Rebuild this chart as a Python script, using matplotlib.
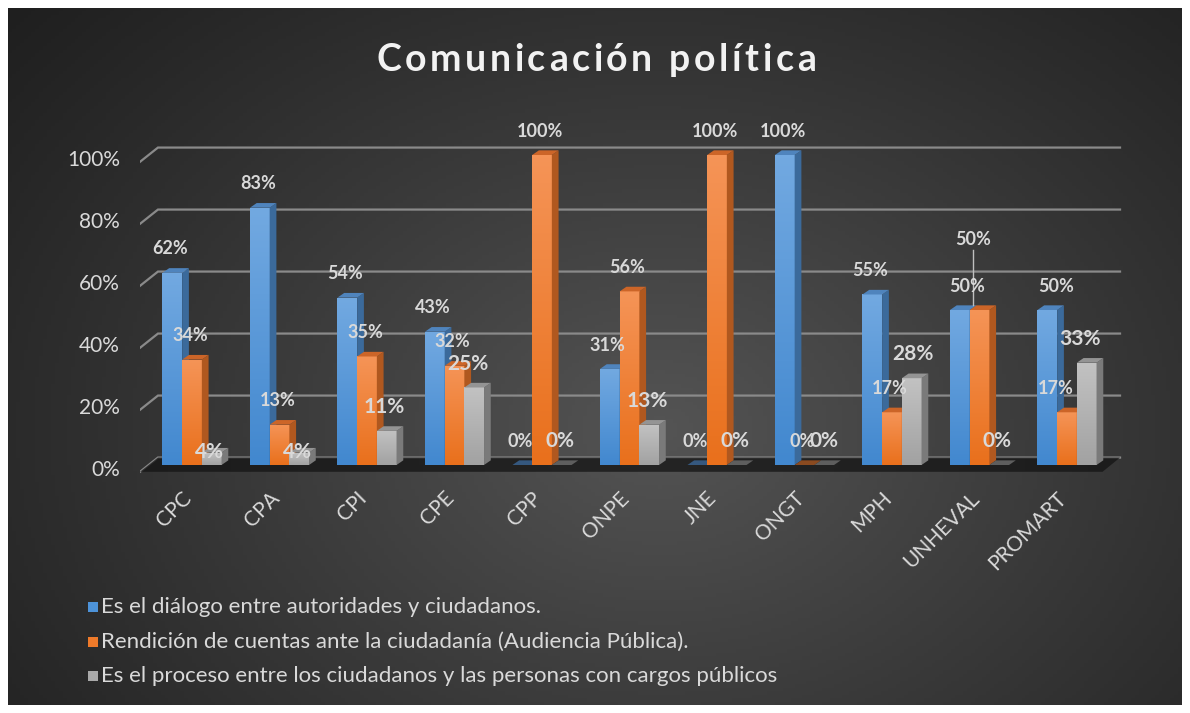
import numpy as np
import matplotlib
matplotlib.use("Agg")
import matplotlib.pyplot as plt
from matplotlib.patches import Polygon, Rectangle
from matplotlib.colors import LinearSegmentedColormap

# ---------------- data ----------------
categories = ["CPC", "CPA", "CPI", "CPE", "CPP", "ONPE", "JNE", "ONGT", "MPH", "UNHEVAL", "PROMART"]
dialogo = [62, 83, 54, 43, 0, 31, 0, 100, 55, 50, 50]
rendicion = [34, 13, 35, 32, 100, 56, 100, 0, 17, 50, 17]
proceso = [4, 4, 11, 25, 0, 13, 0, 0, 28, 0, 33]
series_names = [
    "Es el diálogo entre autoridades y ciudadanos.",
    "Rendición de cuentas ante la ciudadanía (Audiencia Pública).",
    "Es el proceso entre los ciudadanos y las personas con cargos públicos",
]
ytick_values = [0, 20, 40, 60, 80, 100]
title_text = "Comunicación política"

# ---------------- styling ----------------
W, H = 1190, 713
FONT = "Lato"
TXT = "#d9d9d9"
styles = [
    dict(top="#72a9e1", bot="#4288cf", side="#3b6a9b", cap="#4f84bd", zero="#35587f", lab=13),
    dict(top="#f59457", bot="#e9701c", side="#b0581f", cap="#cc6528", zero="#8a4a20", lab=13),
    dict(top="#c2c2c2", bot="#a2a2a2", side="#7a7a7a", cap="#949494", zero="#5e5e5e", lab=15),
]
legend_colors = ["#4d93d9", "#ee7a2a", "#a9a9a9"]

fig = plt.figure(figsize=(W / 100, H / 100), dpi=100, facecolor="white")


def fx(px):
    return px / W


def fy(py):
    return 1 - py / H


# background with radial gradient
bg = fig.add_axes([fx(8), fy(705), (1182 - 8) / W, (705 - 8) / H])
bg.set_axis_off()
gx, gy = np.meshgrid(np.linspace(8, 1182, 300), np.linspace(8, 705, 200))
r = np.sqrt(((gx - 660) / 720) ** 2 + ((gy - 430) / 540) ** 2)
val = 0.115 + 0.215 * np.clip(1 - r / 1.25, 0, 1) ** 1.1
bg.imshow(np.dstack([val, val, val]), extent=[0, 1, 0, 1], aspect="auto", origin="upper")
bg.set_xlim(0, 1)
bg.set_ylim(0, 1)

# main axes: map pixel layout to data coordinates
PX0, PXS = 192.0, 87.5        # x pixel of category 0, pixels per category
PY0, PYS = 465.0, 3.1         # y pixel of value 0, pixels per unit value
L, R, B, T = 140, 1125, 475, 140
ax = fig.add_axes([fx(L), fy(B), (R - L) / W, (B - T) / H])
ax.set_xlim((L - PX0) / PXS, (R - PX0) / PXS)
ax.set_ylim((PY0 - B) / PYS, (PY0 - T) / PYS)
ax.set_axis_off()
ax.patch.set_alpha(0)

n = len(categories)
bw = 0.225
ddx, ddy = 0.077, 1.5
gx_left, gx_slant, gx_right = -0.594, -0.389, 10.606
g_lo, g_hi = -2.2, 2.4

# floor
floor = Polygon([(gx_left, g_lo), (gx_slant, g_hi), (gx_right, g_hi), (gx_right - 0.2, g_lo)],
                closed=True, facecolor="#141414", edgecolor="none", alpha=0.75, zorder=1)
ax.add_patch(floor)

# gridlines (3D style) and y labels
for v in ytick_values:
    ax.plot([gx_left, gx_slant, gx_right], [v + g_lo, v + g_hi, v + g_hi],
            color="#8a8a8a", lw=1.6, zorder=0.5, solid_joinstyle="miter")
    ax.text((120 - PX0) / PXS, v - 1.6, f"{v}%", ha="right", va="center",
            fontsize=15, color=TXT, family=FONT, clip_on=False)

grad = np.linspace(0, 1, 64).reshape(-1, 1)


def draw_bar(x0, v, st, z):
    if v <= 0:
        cap = Polygon([(x0, 0), (x0 + ddx, ddy), (x0 + bw + ddx, ddy), (x0 + bw, 0)],
                      closed=True, facecolor=st["zero"], edgecolor="none", zorder=z)
        ax.add_patch(cap)
        return
    cmap = LinearSegmentedColormap.from_list("g", [st["bot"], st["top"]])
    im = ax.imshow(grad, extent=[x0, x0 + bw, 0, v], origin="lower", cmap=cmap,
                   aspect="auto", zorder=z, interpolation="bilinear")
    clip = Rectangle((x0, 0), bw, v, transform=ax.transData)
    im.set_clip_path(clip)
    side = Polygon([(x0 + bw, 0), (x0 + bw + ddx, ddy), (x0 + bw + ddx, v + ddy), (x0 + bw, v)],
                   closed=True, facecolor=st["side"], edgecolor="none", zorder=z)
    top = Polygon([(x0, v), (x0 + ddx, v + ddy), (x0 + bw + ddx, v + ddy), (x0 + bw, v)],
                  closed=True, facecolor=st["cap"], edgecolor="none", zorder=z)
    ax.add_patch(side)
    ax.add_patch(top)


all_series = [dialogo, rendicion, proceso]
# label adjustments (pixel dx, value dy) for overlaps, as in the reference
label_adjust = {
    (2, 0): (0, -7.5), (2, 1): (0, -7.5),
    (0, 9): (9, 0), (1, 9): (-4, 15),
    (0, 10): (11, 0), (1, 10): (-9, 0), (2, 3): (-4, 0), (2, 10): (-5, 0), (2, 8): (3, 0),
    (2, 7): (2, 0),
}

z = 2
for i in range(n):
    for s, data in enumerate(all_series):
        x0 = i + (s - 1.5) * bw
        draw_bar(x0, data[i], styles[s], z)
        z += 0.01

for i in range(n):
    for s, data in enumerate(all_series):
        v = data[i]
        xc = i + (s - 1) * bw - 2 / PXS
        dxp, dyv = label_adjust.get((s, i), (0, 0))
        ly = v + 7.7 + dyv
        ax.text(xc + dxp / PXS, ly, f"{v}%", ha="center", va="center",
                fontsize=styles[s]["lab"], fontweight="bold", color=TXT, family=FONT,
                zorder=10, clip_on=False)
        if (s, i) == (1, 9):
            ax.plot([xc + dxp / PXS, xc + dxp / PXS], [ly - 3.5, v + ddy], color="#bfbfbf",
                    lw=1, zorder=9)

# category labels
for i, c in enumerate(categories):
    ax.text(i - 0.04, (PY0 - 495) / PYS, c, rotation=45, ha="right", va="center",
            rotation_mode="anchor", fontsize=15, color=TXT, family=FONT, clip_on=False)

# legend
for k, (name, col) in enumerate(zip(series_names, legend_colors)):
    yc = 607 + k * 34.5
    fig.patches.append(Rectangle((fx(88), fy(yc + 5)), 10 / W, 10 / H, transform=fig.transFigure,
                                 facecolor=col, edgecolor="none"))
    fig.text(fx(101), fy(yc), name, ha="left", va="center", fontsize=16, color=TXT, family=FONT)

# title with letter spacing
renderer = fig.canvas.get_renderer()
tsize = 27
widths = []
for ch in title_text:
    if ch == " ":
        t1 = fig.text(0, 0, "n n", fontsize=tsize, fontweight="bold", family=FONT)
        t2 = fig.text(0, 0, "nn", fontsize=tsize, fontweight="bold", family=FONT)
        w = t1.get_window_extent(renderer).width - t2.get_window_extent(renderer).width
        t1.remove(); t2.remove()
    else:
        t = fig.text(0, 0, ch, fontsize=tsize, fontweight="bold", family=FONT)
        w = t.get_window_extent(renderer).width
        t.remove()
    widths.append(w)
target_l, target_r = 376, 816
extra = ((target_r - target_l) - sum(widths)) / (len(title_text) - 1)
xpos = target_l
for ch, w in zip(title_text, widths):
    if ch != " ":
        fig.text(fx(xpos), fy(71), ch, ha="left", va="baseline", fontsize=tsize,
                 fontweight="bold", color="#f2f2f2", family=FONT)
    xpos += w + extra

fig.savefig("out.png", dpi=100, facecolor="white")
